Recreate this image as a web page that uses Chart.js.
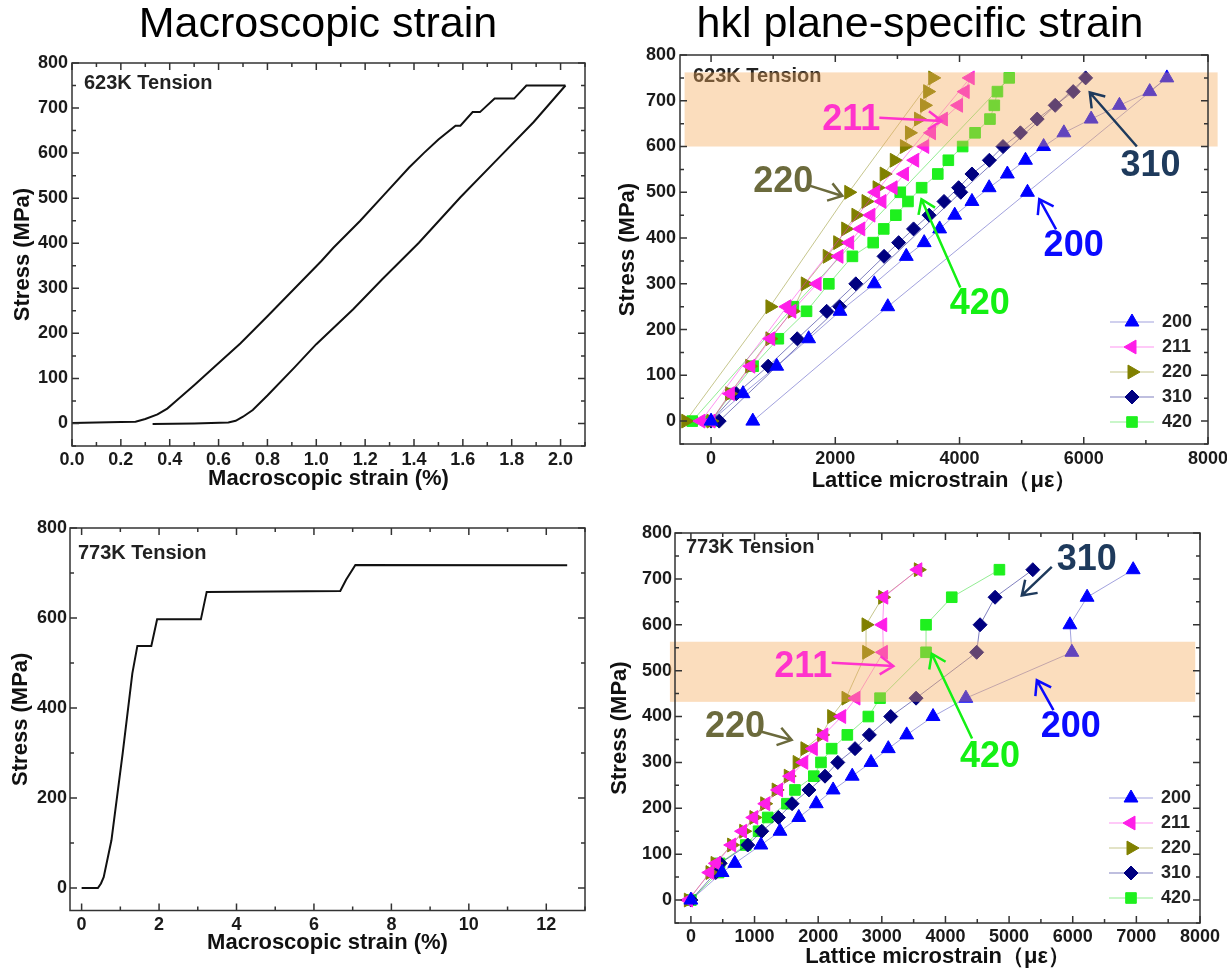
<!DOCTYPE html>
<html lang="en">
<head>
<meta charset="UTF-8">
<title>Macroscopic and hkl plane-specific strain</title>
<script src="https://cdn.jsdelivr.net/npm/chart.js"></script>
<style>
  html, body { margin: 0; padding: 0; background: #fff; overflow: hidden; }
  body { width: 1227px; height: 970px; position: relative; font-family: Arial, "Liberation Sans", sans-serif; }
  canvas { position: absolute; }
  #c1 { left: 0; top: 0; }
  #c2 { left: 600px; top: 0; }
  #c3 { left: 0; top: 500px; }
  #c4 { left: 600px; top: 500px; }
  .head { position: absolute; top: -3px; font-size: 43px; line-height: 50px; color: #000;
          white-space: nowrap; transform: translateX(-50%); z-index: 2; }
</style>
</head>
<body>
<div class="head" style="left:318px">Macroscopic strain</div>
<div class="head" style="left:920px">hkl plane-specific strain</div>
<canvas id="c1" width="600" height="500"></canvas>
<canvas id="c2" width="660" height="500"></canvas>
<canvas id="c3" width="600" height="470"></canvas>
<canvas id="c4" width="660" height="470"></canvas>

<script>
  // ---- macroscopic curves, 623K (strain %, stress MPa)
  const strain623a = [0, 0.10, 0.20, 0.26, 0.30, 0.35, 0.39, 0.42, 0.50, 0.57, 0.69, 0.80, 0.91, 1.02, 1.07, 1.18, 1.28, 1.38, 1.44, 1.50, 1.57, 1.59, 1.64, 1.67, 1.73, 1.81, 1.86, 2.02];
  const stress623a = [1, 2, 3, 4, 10, 20, 33, 47, 85, 119, 178, 238, 299, 360, 390, 450, 509, 568, 600, 630, 661, 661, 691, 691, 721, 721, 750, 750];
  const strain623b = [0.33, 0.50, 0.64, 0.67, 0.70, 0.74, 0.80, 0.91, 1.00, 1.15, 1.27, 1.42, 1.59, 1.73, 1.89, 2.02];
  const stress623b = [-1, 0, 2, 6, 15, 30, 62, 124, 176, 253, 320, 401, 502, 580, 669, 750];

  // ---- macroscopic curve, 773K
  const strain773 = [0, 0.42, 0.50, 0.57, 0.77, 1.06, 1.31, 1.44, 1.80, 1.95, 3.08, 3.23, 6.68, 6.83, 7.07, 12.54];
  const stress773 = [0, 0, 10, 24, 106, 299, 477, 538, 538, 597, 597, 658, 660, 685, 718, 717];

  // ---- lattice strain (microstrain) per hkl, 623K
  const hklLabels = ['200', '211', '220', '310', '420'];
  const stressHkl623 = [0, 60, 120, 180, 240, 300, 360, 390, 420, 450, 480, 510, 540, 570, 600, 630, 660, 690, 720, 750, 500, 250, 0];
  const e200_623 = [0, 514, 1057, 1571, 2075, 2628, 3143, 3431, 3680, 3923, 4200, 4477, 4770, 5062, 5354, 5680, 6119, 6574, 7062, 7338, 5094, 2845, 672];
  const e211_623 = [0, 310, 640, 960, 1300, 1707, 2059, 2231, 2410, 2573, 2751, 2930, 3113, 3278, 3440, 3549, 3740, 3984, 4091, 4172, 2650, 1220, -163];
  const e220_623 = [0, 300, 623, 948, 1308, 1517, 1870, 2039, 2168, 2332, 2495, 2673, 2787, 2950, 3113, 3194, 3340, 3436, 3487, 3569, 2217, 948, -407];
  const e310_623 = [0, 406, 919, 1387, 1861, 2330, 2785, 3020, 3260, 3510, 3750, 3985, 4200, 4480, 4700, 4980, 5250, 5540, 5830, 6030, 4020, 2070, 131];
  const e420_623 = [0, 325, 677, 1083, 1537, 1896, 2276, 2610, 2780, 2975, 3170, 3390, 3650, 3820, 4050, 4250, 4490, 4560, 4610, 4800, 3046, 1325, -303];

  // ---- lattice strain per hkl, 773K
  const stressHkl773 = [0, 60, 80, 120, 150, 180, 210, 240, 270, 300, 330, 360, 400, 440, 540, 600, 660, 720];
  const e200_773 = [0, 490, 690, 1100, 1400, 1695, 1970, 2235, 2535, 2830, 3102, 3391, 3805, 4321, 5987, 5956, 6226, 6950];
  const e211_773 = [-38, 296, 400, 641, 811, 987, 1176, 1377, 1566, 1773, 1923, 2088, 2369, 2594, 3024, 3014, 3031, 3566];
  const e220_773 = [-40, 300, 380, 640, 830, 990, 1160, 1340, 1530, 1670, 1792, 2055, 2212, 2437, 2762, 2752, 3014, 3574];
  const e310_773 = [0, 390, 460, 893, 1113, 1375, 1590, 1855, 2107, 2308, 2579, 2804, 3140, 3538, 4490, 4544, 4780, 5373];
  const e420_773 = [0, 434, 450, 862, 1063, 1207, 1509, 1635, 1931, 2044, 2212, 2458, 2788, 2972, 3695, 3695, 4099, 4848];

  // ---- tick labels
  const xTicks623 = [0, 0.2, 0.4, 0.6, 0.8, 1.0, 1.2, 1.4, 1.6, 1.8, 2.0];
  const xTicks773 = [0, 2, 4, 6, 8, 10, 12];
  const xTicksHkl623 = [0, 2000, 4000, 6000, 8000];
  const xTicksHkl773 = [0, 1000, 2000, 3000, 4000, 5000, 6000, 7000, 8000];
  const yTicks100 = [0, 100, 200, 300, 400, 500, 600, 700, 800];
  const yTicks200 = [0, 200, 400, 600, 800];

  const FONT = 'Arial, "Liberation Sans", sans-serif';
  const hklColors = ['#0000ff', '#ff1ee8', '#808000', '#000080', '#1ef01e'];
  const hklLines = ['rgba(70,70,190,0.5)', 'rgba(255,40,230,0.5)', 'rgba(128,128,0,0.45)', 'rgba(0,0,128,0.5)', 'rgba(40,220,40,0.5)'];
  const hklStyles = ['triangle', 'triangle', 'triangle', 'rectRot', 'rect'];
  const hklRot = [0, -90, 90, 0, 0];
  const hklRadius = [8, 8, 8, 7, 7.5];

  const pts = (xs, ys) => xs.map((x, i) => ({ x: x, y: ys[i] }));

  function hklSets(strains, stress) {
    return strains.map((e, i) => ({
      label: hklLabels[i],
      data: pts(e, stress),
      borderColor: hklLines[i],
      borderWidth: 1,
      backgroundColor: hklColors[i],
      pointBackgroundColor: hklColors[i],
      pointBorderColor: hklColors[i],
      pointBorderWidth: 1,
      pointStyle: hklStyles[i],
      pointRotation: hklRot[i],
      pointRadius: hklRadius[i],
      tension: 0
    }));
  }

  function macroSet(xs, ys) {
    return { data: pts(xs, ys), borderColor: '#111', borderWidth: 2, pointRadius: 0, tension: 0 };
  }

  // box with inward major/minor ticks on all four sides
  const framePlugin = {
    id: 'frame',
    afterDraw(chart, args, o) {
      const { ctx, chartArea: a, scales: { x, y } } = chart;
      ctx.save();
      ctx.strokeStyle = '#333';
      ctx.lineWidth = 1.5;
      ctx.strokeRect(a.left, a.top, a.right - a.left, a.bottom - a.top);
      ctx.beginPath();
      const minors = (s, step) => {
        const out = [];
        for (let k = Math.ceil(s.min / step - 1e-9); k * step <= s.max + 1e-9; k++) out.push(k * step);
        return out;
      };
      const xMark = (v, len) => {
        const p = x.getPixelForValue(v);
        ctx.moveTo(p, a.bottom); ctx.lineTo(p, a.bottom - len);
        ctx.moveTo(p, a.top); ctx.lineTo(p, a.top + len);
      };
      const yMark = (v, len) => {
        const p = y.getPixelForValue(v);
        ctx.moveTo(a.left, p); ctx.lineTo(a.left + len, p);
        ctx.moveTo(a.right, p); ctx.lineTo(a.right - len, p);
      };
      minors(x, o.xMinor).forEach(v => xMark(v, 4));
      minors(y, o.yMinor).forEach(v => yMark(v, 4));
      x.ticks.forEach(t => xMark(t.value, 7));
      y.ticks.forEach(t => yMark(t.value, 7));
      ctx.stroke();
      ctx.restore();
    }
  };

  // "623K Tension" etc, drawn under the shaded band
  const panelText = {
    id: 'ptext',
    beforeDatasetsDraw(chart, args, o) {
      const { ctx, chartArea: a } = chart;
      ctx.save();
      ctx.font = 'bold 20px ' + FONT;
      ctx.fillStyle = '#222';
      ctx.textAlign = 'left';
      ctx.textBaseline = 'middle';
      ctx.fillText(o.text, a.left + o.dx, a.top + o.dy);
      ctx.restore();
    }
  };

  const bandPlugin = {
    id: 'band',
    afterDatasetsDraw(chart, args, o) {
      if (!o.on) return;
      const { ctx, scales: { x, y } } = chart;
      const x0 = x.getPixelForValue(o.x0), x1 = x.getPixelForValue(o.x1);
      const y0 = y.getPixelForValue(o.y1), y1 = y.getPixelForValue(o.y0);
      ctx.save();
      ctx.fillStyle = 'rgba(245,170,90,0.4)';
      ctx.fillRect(x0, y0, x1 - x0, y1 - y0);
      ctx.restore();
    }
  };

  function arrow(ctx, x0, y0, x1, y1) {
    const ang = Math.atan2(y1 - y0, x1 - x0), h = 16, s = 0.6;
    ctx.beginPath();
    ctx.moveTo(x0, y0); ctx.lineTo(x1, y1);
    ctx.moveTo(x1 - h * Math.cos(ang - s), y1 - h * Math.sin(ang - s));
    ctx.lineTo(x1, y1);
    ctx.lineTo(x1 - h * Math.cos(ang + s), y1 - h * Math.sin(ang + s));
    ctx.stroke();
  }

  // big hkl labels with arrows
  const notesPlugin = {
    id: 'notes',
    afterDraw(chart, args, o) {
      if (!o.items) return;
      const { ctx, scales: { x, y } } = chart;
      ctx.save();
      ctx.font = 'bold 36px ' + FONT;
      ctx.textAlign = 'center';
      ctx.textBaseline = 'middle';
      ctx.lineWidth = 2.5;
      o.items.forEach(n => {
        ctx.fillStyle = n.c;
        ctx.strokeStyle = n.c;
        ctx.fillText(n.t, x.getPixelForValue(n.x), y.getPixelForValue(n.y));
        arrow(ctx, x.getPixelForValue(n.a[0]), y.getPixelForValue(n.a[1]),
                   x.getPixelForValue(n.a[2]), y.getPixelForValue(n.a[3]));
      });
      ctx.restore();
    }
  };

  // legend box: line + marker + label, inside the plot
  const keyPlugin = {
    id: 'key',
    afterDraw(chart, args, o) {
      if (!o.x) return;
      const ctx = chart.ctx;
      ctx.save();
      ctx.font = 'bold 18px ' + FONT;
      ctx.textAlign = 'left';
      ctx.textBaseline = 'middle';
      chart.data.datasets.forEach((ds, i) => {
        const yy = o.y + i * o.dy;
        ctx.strokeStyle = ds.borderColor;
        ctx.lineWidth = 1;
        ctx.beginPath();
        ctx.moveTo(o.x, yy); ctx.lineTo(o.x + o.w, yy);
        ctx.stroke();
        ctx.fillStyle = ds.pointBackgroundColor;
        ctx.strokeStyle = ds.pointBorderColor;
        Chart.helpers.drawPoint(ctx, { pointStyle: ds.pointStyle, rotation: ds.pointRotation, radius: ds.pointRadius, borderWidth: 1 }, o.x + o.w / 2, yy);
        ctx.fillStyle = '#222';
        ctx.fillText(ds.label, o.x + o.w + 8, yy);
      });
      ctx.restore();
    }
  };

  function makeOptions(p) {
    const tickFont = { family: FONT, size: 18, weight: 'bold' };
    const titleFont = { family: FONT, size: 22, weight: 'bold' };
    return {
      responsive: false,
      animation: false,
      events: [],
      layout: { padding: p.pad },
      plugins: {
        legend: { display: false },
        tooltip: { enabled: false },
        frame: { xMinor: p.xMinor, yMinor: p.yMinor },
        ptext: p.text,
        band: p.band || { on: false },
        notes: { items: p.notes },
        key: p.key || {}
      },
      scales: {
        x: {
          type: 'linear', min: p.xMin, max: p.xMax,
          afterFit: s => { s.height = p.xH; },
          afterBuildTicks: s => { s.ticks = p.xTicks.map(v => ({ value: v })); },
          grid: { display: false, drawTicks: false },
          border: { display: false },
          ticks: { font: tickFont, color: '#1a1a1a', padding: p.xPad, autoSkip: false, maxRotation: 0, callback: p.xFmt || (v => v) },
          title: { display: true, text: p.xTitle, font: titleFont, color: '#111', padding: { top: 0, bottom: p.xTitlePad } }
        },
        y: {
          type: 'linear', min: -50, max: 800,
          afterFit: s => { s.width = p.yW; },
          afterBuildTicks: s => { s.ticks = p.yTicks.map(v => ({ value: v })); },
          grid: { display: false, drawTicks: false },
          border: { display: false },
          ticks: { font: tickFont, color: '#1a1a1a', padding: p.yPad, autoSkip: false },
          title: { display: true, text: 'Stress (MPa)', font: titleFont, color: '#111', padding: { top: p.yTitlePad, bottom: 0 } }
        }
      }
    };
  }

  const allPlugins = [framePlugin, panelText, bandPlugin, notesPlugin, keyPlugin];

  // top left: 623K macroscopic
  new Chart(document.getElementById('c1'), {
    type: 'line',
    data: { datasets: [macroSet(strain623a, stress623a), macroSet(strain623b, stress623b)] },
    options: makeOptions({
      pad: { left: 0, top: 63, right: 15, bottom: 4 },
      xMin: 0, xMax: 2.1, xTicks: xTicks623, xMinor: 0.1, xFmt: v => v.toFixed(1),
      yTicks: yTicks100, yMinor: 50,
      xH: 50, xPad: 3, xTitlePad: 4, yW: 72, yPad: 4, yTitlePad: 10,
      xTitle: 'Macroscopic strain (%)',
      text: { text: '623K Tension', dx: 12, dy: 20 }
    }),
    plugins: allPlugins
  });

  // top right: 623K lattice strain
  new Chart(document.getElementById('c2'), {
    type: 'line',
    data: { datasets: hklSets([e200_623, e211_623, e220_623, e310_623, e420_623], stressHkl623) },
    options: makeOptions({
      pad: { left: 0, top: 55, right: 52, bottom: 6 },
      xMin: -500, xMax: 8000, xTicks: xTicksHkl623, xMinor: 1000,
      yTicks: yTicks100, yMinor: 50,
      xH: 50, xPad: 4, xTitlePad: 0, yW: 80, yPad: 4, yTitlePad: 15,
      xTitle: 'Lattice microstrain（με）',
      text: { text: '623K Tension', dx: 13, dy: 21 },
      band: { on: true, x0: -426, x1: 8155, y0: 600, y1: 762 },
      key: { x: 510, y: 322, dy: 25, w: 44 },
      notes: [
        { t: '211', c: '#ff33cc', x: 2257, y: 657, a: [2709, 663, 3712, 656] },
        { t: '220', c: '#6b6a3c', x: 1164, y: 522, a: [1598, 514, 2114, 492] },
        { t: '310', c: '#1e3a5c', x: 7073, y: 557, a: [6855, 600, 6097, 718] },
        { t: '200', c: '#0a0aff', x: 5837, y: 383, a: [5554, 419, 5284, 485] },
        { t: '420', c: '#14f014', x: 4327, y: 255, a: [4013, 292, 3387, 485] }
      ]
    }),
    plugins: allPlugins
  });

  // bottom left: 773K macroscopic
  new Chart(document.getElementById('c3'), {
    type: 'line',
    data: { datasets: [macroSet(strain773, stress773)] },
    options: makeOptions({
      pad: { left: 0, top: 28, right: 15, bottom: 9.5 },
      xMin: -0.3, xMax: 13, xTicks: xTicks773, xMinor: 1,
      yTicks: yTicks200, yMinor: 100,
      xH: 50, xPad: 4, xTitlePad: 4, yW: 70, yPad: 3, yTitlePad: 8,
      xTitle: 'Macroscopic strain (%)',
      text: { text: '773K Tension', dx: 8, dy: 25 }
    }),
    plugins: allPlugins
  });

  // bottom right: 773K lattice strain
  new Chart(document.getElementById('c4'), {
    type: 'line',
    data: { datasets: hklSets([e200_773, e211_773, e220_773, e310_773, e420_773], stressHkl773) },
    options: makeOptions({
      pad: { left: 0, top: 33, right: 60, bottom: 0 },
      xMin: -250, xMax: 8000, xTicks: xTicksHkl773, xMinor: 500,
      yTicks: yTicks100, yMinor: 50,
      xH: 47, xPad: 3, xTitlePad: 0, yW: 75, yPad: 3, yTitlePad: 7,
      xTitle: 'Lattice microstrain（με）',
      text: { text: '773K Tension', dx: 11, dy: 14 },
      band: { on: true, x0: -330, x1: 7925, y0: 432, y1: 563 },
      key: { x: 509, y: 298, dy: 25, w: 44 },
      notes: [
        { t: '211', c: '#ff33cc', x: 1766, y: 508, a: [2212, 517, 3181, 510] },
        { t: '220', c: '#6b6a3c', x: 692, y: 378, a: [1111, 367, 1583, 349] },
        { t: '310', c: '#1e3a5c', x: 6222, y: 741, a: [5671, 726, 5200, 664] },
        { t: '200', c: '#0a0aff', x: 5970, y: 378, a: [5697, 414, 5436, 479] },
        { t: '420', c: '#14f014', x: 4701, y: 312, a: [4418, 352, 3785, 537] }
      ]
    }),
    plugins: allPlugins
  });
</script>
</body>
</html>
